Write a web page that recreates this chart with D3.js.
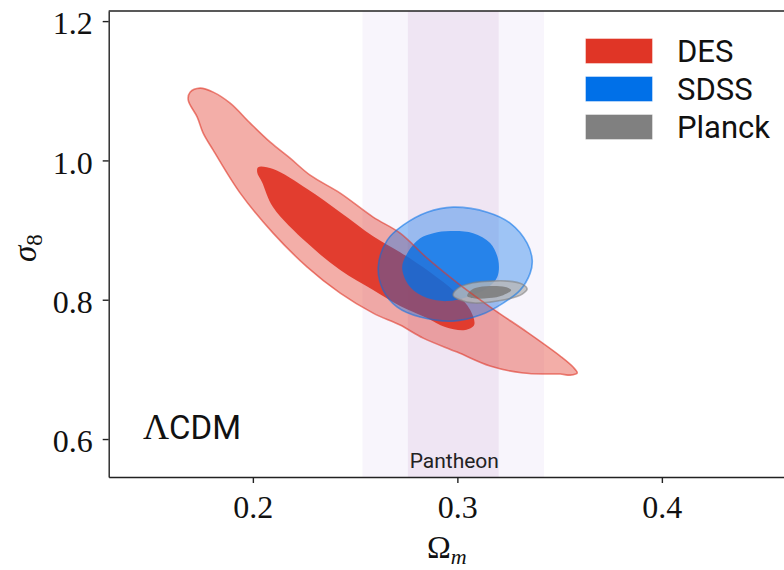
<!DOCTYPE html>
<meta charset="utf-8">
<head>
  <title>sigma8 vs Omega_m</title>
</head>
<style>
body { margin: 0; background: #fff; }
.tick text { font-family: "Liberation Serif", serif; font-size: 32px; fill: #111; }
.sans { font-family: Roboto, "Noto Sans", sans-serif; }
.serif { font-family: "Liberation Serif", serif; }
</style>
<body>
<script src="https://d3js.org/d3.v7.min.js"></script>
<script>

// contours: [Omega_m, sigma_8]
var desOuter = [
  [0.1742,1.1038],[0.1806,1.098],[0.1889,1.0822],[0.1987,1.0535],[0.2085,1.0262],
  [0.2182,1.0032],[0.2280,0.9788],[0.2427,0.953],[0.2588,0.9186],[0.2720,0.8956],[0.2852,0.8597],
  [0.3014,0.821],[0.3175,0.7866],[0.3341,0.7535],[0.3503,0.7191],[0.3566,0.7033],
  [0.3586,0.6947],[0.3552,0.6918],[0.3503,0.6933],[0.3439,0.6933],[0.3322,0.6947],
  [0.3160,0.7048],[0.2999,0.7248],[0.2833,0.7449],[0.2720,0.7636],[0.2588,0.7808],
  [0.2427,0.8095],[0.2266,0.8468],[0.2099,0.8956],[0.1938,0.953],[0.1806,1.0147],
  [0.1757,1.0391],[0.1728,1.0621],[0.1684,1.0865],[0.1693,1.098]
];
var desInner = [
  [0.2026,0.9903],[0.2099,0.9875],[0.2266,0.9588],[0.2427,0.9257],[0.2588,0.8913],
  [0.2720,0.8683],[0.2867,0.8396],[0.2989,0.811],[0.3063,0.7851],[0.3082,0.7636],
  [0.3038,0.7564],[0.2940,0.7607],[0.2852,0.7736],[0.2720,0.7909],[0.2588,0.8138],
  [0.2427,0.8425],[0.2266,0.8813],[0.2099,0.9329],[0.2045,0.9688],[0.2021,0.9831]
];
var sdssOuter = [
  [0.2979,0.9329],[0.3146,0.9257],[0.3258,0.91],[0.3341,0.8813],[0.3366,0.8569],
  [0.3356,0.8382],[0.3307,0.8138],[0.3224,0.7952],[0.3112,0.7779],[0.2979,0.7693],
  [0.2818,0.7751],[0.2706,0.7894],[0.2637,0.8138],[0.2613,0.8468],[0.2657,0.8856],
  [0.2735,0.9071],[0.2852,0.9257]
];
var sdssInner = [
  [0.2965,0.8985],[0.3077,0.8956],[0.3160,0.8813],[0.3200,0.8569],[0.3195,0.8325],
  [0.3146,0.8167],[0.3048,0.8038],[0.2950,0.798],[0.2852,0.8023],[0.2769,0.8181],
  [0.2730,0.8454],[0.2755,0.8669],[0.2818,0.8884],[0.2882,0.8956]
];
var planckOuter = [
  [0.2979,0.8066],[0.3014,0.7995],[0.3087,0.7952],[0.3160,0.7966],[0.3248,0.8009],
  [0.3317,0.8081],[0.3341,0.8153],[0.3317,0.8224],[0.3248,0.8267],[0.3160,0.8267],
  [0.3072,0.8239],[0.3004,0.8167]
];
var planckInner = [
  [0.3048,0.8052],[0.3087,0.8016],[0.3155,0.8023],[0.3224,0.8066],[0.3263,0.8138],
  [0.3234,0.8181],[0.3160,0.8196],[0.3087,0.8167],[0.3058,0.811]
];

var pantheonMean = 0.298, pantheonSigma = 0.0222;

var xTicks = [0.2, 0.3, 0.4];
var yTicks = [0.6, 0.8, 1.0, 1.2];
var legendNames = ["DES", "SDSS", "Planck"];
var legendColors = ["#e03526", "#0070e8", "#808080"];

var svg = d3.select("body").append("svg")
    .attr("width", 784)
    .attr("height", 570);

var x = d3.scaleLinear().domain([0.1295, 0.47]).range([108.7, 108.7 + 0.3405 * 2045]);
var y = d3.scaleLinear().domain([0.5455, 1.2145]).range([477, 11]);

// Pantheon bands (2 sigma, 1 sigma)
svg.append("rect")
    .attr("x", x(pantheonMean - 2 * pantheonSigma))
    .attr("width", x(pantheonMean + 2 * pantheonSigma) - x(pantheonMean - 2 * pantheonSigma))
    .attr("y", y.range()[1]).attr("height", y.range()[0] - y.range()[1])
    .attr("fill", "#f8f5fc");
svg.append("rect")
    .attr("x", x(pantheonMean - pantheonSigma))
    .attr("width", x(pantheonMean + pantheonSigma) - x(pantheonMean - pantheonSigma))
    .attr("y", y.range()[1]).attr("height", y.range()[0] - y.range()[1])
    .attr("fill", "#efe5f3");

var contour = d3.line()
    .x(function(d) { return x(d[0]); })
    .y(function(d) { return y(d[1]); })
    .curve(d3.curveCatmullRomClosed.alpha(0.5));

// fills
svg.append("path").attr("d", contour(desOuter)).attr("fill", legendColors[0]).attr("fill-opacity", 0.4);
svg.append("path").attr("d", contour(desInner)).attr("fill", legendColors[0]).attr("fill-opacity", 0.93);
svg.append("path").attr("d", contour(sdssOuter)).attr("fill", legendColors[1]).attr("fill-opacity", 0.36);
svg.append("path").attr("d", contour(sdssInner)).attr("fill", legendColors[1]).attr("fill-opacity", 0.75);
svg.append("path").attr("d", contour(planckOuter)).attr("fill", "#b8b8b8").attr("fill-opacity", 0.8);
svg.append("path").attr("d", contour(planckInner)).attr("fill", "#7a7a7a").attr("fill-opacity", 0.85);

// outlines on top
svg.append("path").attr("d", contour(desOuter)).attr("fill", "none")
    .attr("stroke", legendColors[0]).attr("stroke-opacity", 0.6).attr("stroke-width", 1.6);
svg.append("path").attr("d", contour(sdssOuter)).attr("fill", "none")
    .attr("stroke", legendColors[1]).attr("stroke-opacity", 0.55).attr("stroke-width", 1.6);
svg.append("path").attr("d", contour(planckOuter)).attr("fill", "none")
    .attr("stroke", "#808080").attr("stroke-opacity", 0.6).attr("stroke-width", 1.6);

// axes
var yAxis = svg.append("g")
    .attr("transform", "translate(" + x.range()[0] + ",0)")
    .call(d3.axisLeft(y).tickValues(yTicks).tickFormat(d3.format(".1f")).tickSize(6).tickPadding(10).tickSizeOuter(0));
yAxis.selectAll(".tick text").attr("dy", "0.4em");

var xAxis = svg.append("g")
    .attr("transform", "translate(0," + y.range()[0] + ")")
    .call(d3.axisBottom(x).tickValues(xTicks).tickFormat(d3.format(".1f")).tickSize(6).tickPadding(12).tickSizeOuter(0));

svg.selectAll(".domain, .tick line").attr("stroke", "#222").attr("stroke-width", 1.4);

// top spine
svg.append("line")
    .attr("x1", x.range()[0]).attr("x2", x.range()[1])
    .attr("y1", y.range()[1]).attr("y2", y.range()[1])
    .attr("stroke", "#222").attr("stroke-width", 1.4);

// axis labels
var xl = svg.append("text").attr("class", "serif")
    .attr("x", 427).attr("y", 558).attr("font-size", 32).attr("fill", "#111");
xl.append("tspan").text("Ω");
xl.append("tspan").attr("font-style", "italic").attr("font-size", 22).attr("dy", 6).text("m");

var yl = svg.append("text").attr("class", "serif")
    .attr("transform", "translate(36,262) rotate(-90)")
    .attr("font-size", 33).attr("fill", "#111");
yl.append("tspan").attr("font-style", "italic").text("σ");
yl.append("tspan").attr("font-size", 23).attr("dy", 6).text("8");

// Lambda CDM label
var lc = svg.append("text").attr("x", 143).attr("y", 439).attr("fill", "#111");
lc.append("tspan").attr("class", "serif").attr("font-size", 36).text("Λ");
lc.append("tspan").attr("class", "sans").attr("font-size", 33).text("CDM");

// Pantheon label
svg.append("text").attr("class", "sans")
    .attr("x", x(pantheonMean) + 1).attr("y", 468)
    .attr("text-anchor", "middle").attr("font-size", 21).attr("fill", "#222")
    .text("Pantheon");

// legend
var legend = svg.append("g").selectAll("g")
    .data(legendNames)
    .enter().append("g")
    .attr("transform", function(d, i) { return "translate(586," + (39 + i * 38) + ")"; });

legend.append("rect")
    .attr("width", 66).attr("height", 24)
    .attr("fill", function(d, i) { return legendColors[i]; })
    .attr("stroke", function(d, i) { return legendColors[i]; })
    .attr("stroke-opacity", 0.6);

legend.append("text").attr("class", "sans")
    .attr("x", 91).attr("y", 23)
    .attr("font-size", 31).attr("fill", "#111")
    .text(function(d) { return d; });

</script>
</body>
